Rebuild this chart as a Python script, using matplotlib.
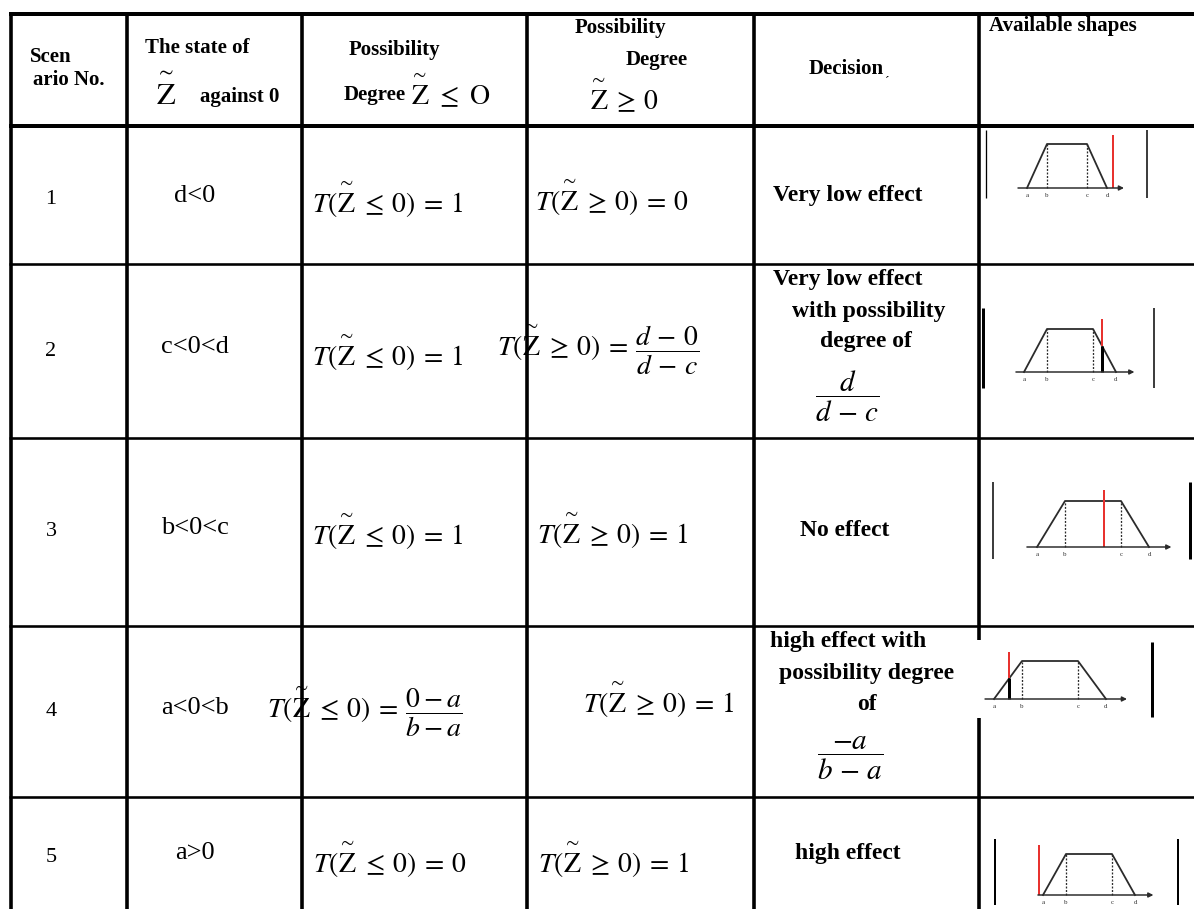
import matplotlib.pyplot as plt
from matplotlib.transforms import Affine2D

plt.rcParams["font.family"] = ["Liberation Serif", "DejaVu Serif"]
plt.rcParams["mathtext.fontset"] = "stix"

Z = r"\overset{\sim}{\mathrm{Z}}"

# table content
headers = [
    ["Scen", "ario No."],
    ["The state of", "against 0"],
    ["Possibility", "Degree"],
    ["Possibility", "Degree"],
    ["Decision"],
    ["Available shapes"],
]
scenario_no = ["1", "2", "3", "4", "5"]
state_vs_zero = ["d<0", "c<0<d", "b<0<c", "a<0<b", "a>0"]
degree_le = [
    rf"$T({Z} \:\leq\: 0) \:=\: 1$",
    rf"$T({Z} \:\leq\: 0) \:=\: 1$",
    rf"$T({Z} \:\leq\: 0) \:=\: 1$",
    rf"$T({Z} \:\leq\: 0) \:=\: \dfrac{{0-a}}{{b-a}}$",
    rf"$T({Z} \:\leq\: 0) \:=\: 0$",
]
degree_ge = [
    rf"$T({Z} \:\geq\: 0) \:=\: 0$",
    rf"$T({Z} \:\geq\: 0) \:=\: \dfrac{{d\,-\,0}}{{d\,-\,c}}$",
    rf"$T({Z} \:\geq\: 0) \:=\: 1$",
    rf"$T({Z} \:\geq\: 0) \:=\: 1$",
    rf"$T({Z} \:\geq\: 0) \:=\: 1$",
]
decision = [
    ["Very low effect"],
    ["Very low effect", "with possibility", "degree of", r"$\dfrac{d}{d\,-\,c}$"],
    ["No effect"],
    ["high effect with", "possibility degree", "of", r"$\dfrac{-a}{b\,-\,a}$"],
    ["high effect"],
]
# trapezoid corners a, b, c, d and where 0 lies on the same axis, per scenario
trap_x = [0, 1, 3, 4]
trap_y = [0, 1, 1, 0]
trap_labels = ["a", "b", "c", "d"]
zero_at = [4.3, 3.4, 2.4, 0.54, -0.18]

# ---- layout (pixels) ----
W, H = 1194, 909
row_lines = [14, 126, 264, 438, 626, 797]
col_lines = [11, 127, 302, 527, 754, 979]
row_mid = [200, 351, 532, 712, 857]
le_x = [312, 312, 312, 267, 313]
le_y = [200, 353, 532, 712, 860]
ge_x = [535, 497, 537, 583, 538]
ge_y = [198, 350, 531, 700, 860]
dec_pos = [
    [(773, 195, "left")],
    [(773, 280, "left"), (792, 312, "left"), (820, 342, "left"), (847, 396, "center")],
    [(800, 530, "left")],
    [(770, 642, "left"), (779, 673, "left"), (867, 705, "center"), (850, 758, "center")],
    [(795, 853, "left")],
]
# shape boxes: x of a, px per unit, baseline y, trapezoid height, axis start/end, red top
shape_box = [
    (1027, 20, 188, 44, -0.45, 4.85, 1.2),
    (1024, 23, 372, 43, -0.35, 4.8, 1.23),
    (1037, 28, 547, 46, -0.36, 4.8, 1.24),
    (994, 28, 699, 38, -0.32, 4.75, 1.24),
    (1043, 23, 895, 41, -0.22, 4.8, 1.22),
]
# thin frame strokes of the pasted shape images: (x, width px, y0, y1)
frame_strokes = [
    [(986, 1.3, 130, 198), (1147, 1.5, 130, 198)],
    [(983, 3, 308, 388), (1154, 1.5, 308, 388)],
    [(993, 1.5, 482, 559), (1190, 3, 482, 559)],
    [(1152, 3, 642, 717)],
    [(995, 2, 839, 905), (1178, 2, 839, 905)],
]

px = 72 / 100  # points per pixel

fig = plt.figure(figsize=(W / 100, H / 100), dpi=100)
ax = fig.add_axes([0, 0, 1, 1])
ax.set_xlim(0, W)
ax.set_ylim(H, 0)
ax.axis("off")

# grid
for i, y in enumerate(row_lines):
    lw = 4 if i < 2 else 2.6
    ax.plot([col_lines[0] - 2, W], [y, y], color="black", lw=lw * px, solid_capstyle="butt")
for x in col_lines:
    if x == col_lines[-1]:
        ax.plot([x, x], [row_lines[0], 640], color="black", lw=3.6 * px, solid_capstyle="butt")
        ax.plot([x, x], [718, H], color="black", lw=3.6 * px, solid_capstyle="butt")
    else:
        ax.plot([x, x], [row_lines[0], H], color="black", lw=3.6 * px, solid_capstyle="butt")

# header
hfs = 15
bold = dict(fontsize=hfs, fontweight="bold", va="center", ha="left")
ax.text(30, 57, headers[0][0], **bold)
ax.text(33, 80, headers[0][1], **bold)
ax.text(145, 48, headers[1][0], **bold)
ax.text(155, 93, rf"${Z}$", fontsize=22, va="center", ha="left")
ax.text(200, 97, headers[1][1], **bold)
ax.text(349, 50, headers[2][0], **bold)
ax.text(344, 95, headers[2][1], **bold)
ax.text(410, 92, rf"${Z}\ \leq\ \mathrm{{O}}$", fontsize=20, va="center", ha="left")
ax.text(575, 28, headers[3][0], **bold)
ax.text(626, 60, headers[3][1], **bold)
ax.text(589, 97, rf"${Z} \:\geq\: 0$", fontsize=20, va="center", ha="left")
ax.text(809, 69, headers[4][0], **bold)
ax.text(885, 82, "\u00b4", fontsize=10, va="center", ha="left")
ax.text(989, 26, headers[5][0], **bold)

# body
for r in range(5):
    ax.text(51, row_mid[r], scenario_no[r], fontsize=16, ha="center", va="center")
    ax.text(195, row_mid[r] - 4, state_vs_zero[r], fontsize=19, ha="center", va="center")
    ax.text(le_x[r], le_y[r], degree_le[r], fontsize=20, ha="left", va="center")
    ax.text(ge_x[r], ge_y[r], degree_ge[r], fontsize=20, ha="left", va="center")
    for line, (x, y, ha) in zip(decision[r], dec_pos[r]):
        if line.startswith("$"):
            ax.text(x, y, line, fontsize=21, ha=ha, va="center")
        else:
            ax.text(x, y, line, fontsize=17, fontweight="bold", ha=ha, va="center")

# shapes
for r in range(5):
    xa, unit, yb, h, ax0, ax1, red_top = shape_box[r]
    tr = Affine2D().scale(unit, -h).translate(xa, yb) + ax.transData
    ink = "#2b2b2b"
    ax.plot(trap_x, trap_y, color=ink, lw=1.8 * px, transform=tr)
    for k in (1, 2):
        ax.plot([trap_x[k], trap_x[k]], [0, 1], color=ink, lw=1.3 * px,
                ls=(0, (1.5, 1.2)), transform=tr)
    ax.annotate("", xy=(ax1, 0), xytext=(ax0, 0), xycoords=tr, textcoords=tr,
                arrowprops=dict(arrowstyle="-|>", color=ink, lw=1.5 * px,
                                mutation_scale=7, shrinkA=0, shrinkB=0))
    for xv, lab in zip(trap_x, trap_labels):
        ax.text(xv, -7.5 / h, lab, transform=tr, fontsize=5, color="#333333",
                ha="center", va="center")
    z = zero_at[r]
    if trap_x[0] < z < trap_x[1] or trap_x[2] < z < trap_x[3]:
        if z < trap_x[1]:
            mu = (z - trap_x[0]) / (trap_x[1] - trap_x[0])
        else:
            mu = (trap_x[3] - z) / (trap_x[3] - trap_x[2])
        ax.plot([z, z], [0, mu], color="black", lw=3 * px, transform=tr,
                solid_capstyle="butt")
        ax.plot([z, z], [mu, red_top], color="#e8322f", lw=2 * px, transform=tr,
                solid_capstyle="butt")
    else:
        ax.plot([z, z], [0, red_top], color="#e8322f", lw=2 * px, transform=tr,
                solid_capstyle="butt")
    for x, w, y0, y1 in frame_strokes[r]:
        ax.plot([x, x], [y0, y1], color="black", lw=w * px, solid_capstyle="butt")

fig.savefig("out.png", dpi=100)
